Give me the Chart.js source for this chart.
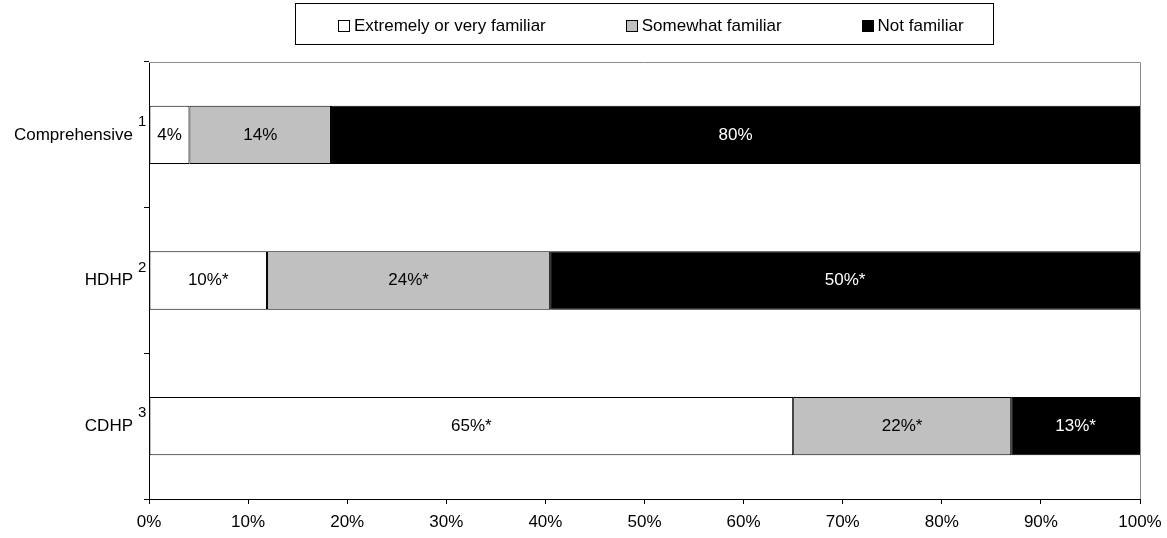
<!DOCTYPE html>
<html>
<head>
<meta charset="utf-8">
<script src="https://cdn.jsdelivr.net/npm/chart.js@4"></script>
<style>
  html, body { margin: 0; padding: 0; background: #fff; }
  #wrap { width: 1167px; height: 538px; position: relative; }
</style>
</head>
<body>
<div id="wrap"><canvas id="bar"></canvas></div>
<script>
// categories (plan types) and the footnote number after each
const plans = ['Comprehensive', 'HDHP', 'CDHP'];
const footnotes = ['1', '2', '3'];
// * on the label = different from comprehensive
const starred = [false, true, true];

// values as printed on the bars (%)
const veryFamiliar = [4, 10, 65];
const somewhatFamiliar = [14, 24, 22];
const notFamiliar = [80, 50, 13];

const FONT = "'Liberation Sans', Arial, Helvetica, sans-serif";
Chart.defaults.font.family = FONT;
Chart.defaults.font.size = 17;
Chart.defaults.color = '#000';

// 100% stacked: each bar is the share of its row total
const totals = plans.map((_, i) => veryFamiliar[i] + somewhatFamiliar[i] + notFamiliar[i]);
const share = arr => arr.map((v, i) => v / totals[i] * 100);

const series = [
  { label: 'Extremely or very familiar', raw: veryFamiliar, fill: '#ffffff', text: '#000000' },
  { label: 'Somewhat familiar', raw: somewhatFamiliar, fill: '#c0c0c0', text: '#000000' },
  { label: 'Not familiar', raw: notFamiliar, fill: '#000000', text: '#ffffff' },
];

// numbers inside the bars
const barLabels = {
  id: 'barLabels',
  afterDatasetsDraw(chart) {
    const ctx = chart.ctx;
    ctx.save();
    ctx.font = '17px ' + FONT;
    ctx.textAlign = 'center';
    ctx.textBaseline = 'middle';
    chart.data.datasets.forEach((ds, di) => {
      chart.getDatasetMeta(di).data.forEach((bar, i) => {
        ctx.fillStyle = ds.labelColor;
        ctx.fillText(ds.raw[i] + '%' + (starred[i] ? '*' : ''), (bar.x + bar.base) / 2, bar.y);
      });
    });
    ctx.restore();
  }
};

// grey frame on top/right, superscripts, legend box
const extras = {
  id: 'extras',
  afterDraw(chart) {
    const ctx = chart.ctx;
    const a = chart.chartArea;
    ctx.save();
    ctx.strokeStyle = '#8c8c8c';
    ctx.lineWidth = 1;
    ctx.beginPath();
    ctx.moveTo(a.left, a.top + 0.5);
    ctx.lineTo(a.right + 0.5, a.top + 0.5);
    ctx.lineTo(a.right + 0.5, a.bottom);
    ctx.stroke();

    // footnote numbers next to the y labels
    const y = chart.scales.y;
    ctx.fillStyle = '#000';
    ctx.font = '15px ' + FONT;
    ctx.textAlign = 'left';
    ctx.textBaseline = 'middle';
    footnotes.forEach((f, i) => {
      ctx.fillText(f, 138, y.getPixelForValue(i) - 13);
    });

    // legend
    const lx = 295, ly = 3, lw = 698, lh = 41;
    ctx.strokeStyle = '#000';
    ctx.strokeRect(lx + 0.5, ly + 0.5, lw, lh);
    ctx.font = '17px ' + FONT;
    const sw = 12, tg = 4, gap = 80;
    const ds = chart.data.datasets;
    let x = lx + 43;
    const cy = ly + lh / 2 + 3;
    ds.forEach(d => {
      ctx.fillStyle = d.backgroundColor;
      ctx.fillRect(Math.round(x), Math.round(cy - 7), sw, sw);
      ctx.strokeStyle = '#000';
      ctx.strokeRect(Math.round(x) + 0.5, Math.round(cy - 7) + 0.5, sw - 1, sw - 1);
      ctx.fillStyle = '#000';
      ctx.fillText(d.label, x + sw + tg, cy);
      x += sw + tg + ctx.measureText(d.label).width + gap;
    });
    ctx.restore();
  }
};

new Chart(document.getElementById('bar'), {
  type: 'bar',
  data: {
    labels: plans,
    datasets: series.map(s => ({
      label: s.label,
      raw: s.raw,
      data: share(s.raw),
      backgroundColor: s.fill,
      borderColor: '#000000',
      borderWidth: 1,
      borderSkipped: false,
      labelColor: s.text,
      barPercentage: 0.4,
      categoryPercentage: 1,
    })),
  },
  options: {
    indexAxis: 'y',
    responsive: true,
    maintainAspectRatio: false,
    animation: false,
    layout: { padding: { top: 62, right: 27, left: 0, bottom: 0 } },
    plugins: {
      legend: { display: false },
      tooltip: { enabled: false },
    },
    scales: {
      x: {
        stacked: true,
        min: 0,
        max: 100,
        ticks: {
          stepSize: 10,
          padding: 8,
          callback: v => v + '%',
        },
        grid: { drawOnChartArea: false, color: '#000', tickLength: 5 },
        border: { color: '#000' },
        afterFit(scale) {
          scale.height = 39;
          scale.paddingLeft = 0;
          scale.paddingRight = 0;
        },
      },
      y: {
        stacked: true,
        ticks: { padding: 11 },
        grid: { drawOnChartArea: false, color: '#000', tickLength: 5, offset: true },
        border: { color: '#000' },
        afterFit(scale) { scale.width = 149; },
      },
    },
  },
  plugins: [barLabels, extras],
});
</script>
</body>
</html>
